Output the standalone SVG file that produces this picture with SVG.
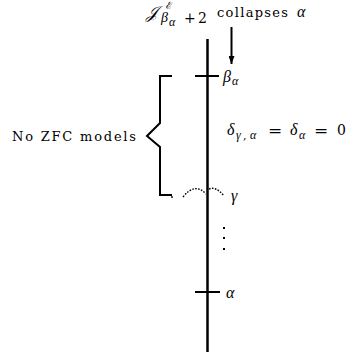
<svg xmlns="http://www.w3.org/2000/svg" width="348" height="355" viewBox="0 0 348 355">
<defs>
<marker id="ah" markerWidth="8" markerHeight="6" refX="8" refY="3" orient="auto" markerUnits="userSpaceOnUse">
<path d="M0,0 L8,3 L0,6 Z" fill="#000"/>
</marker>
</defs>
<style>
.ln{stroke:#000;stroke-width:2;fill:none}
.ax{stroke:#000;stroke-width:2.5;fill:none}
.t{fill:#000;font-family:"DejaVu Serif","Liberation Serif",serif}
.i{font-style:italic;font-family:"Liberation Serif","DejaVu Serif",serif}
.dot{stroke:#000;stroke-width:1.4;fill:none;stroke-dasharray:1.6 1.4}
</style>
<rect width="348" height="355" fill="#fff"/>
<g id="title">
<text class="t i" x="146" y="18" style="font-size:17px">𝒥</text>
<text class="t" x="166" y="9" style="font-size:10px">ℰ</text>
<text class="t i" x="161" y="22" style="font-size:14px">β</text>
<text class="t i" x="169" y="26" style="font-size:12px">α</text>
<text class="t" x="184" y="23" style="font-size:14px" textLength="23">+2</text>
<text class="t" x="217" y="17" style="font-size:13px" textLength="71">collapses</text>
<text class="t i" x="297" y="17" style="font-size:16px">α</text>
</g>
<g id="axis">
<line class="ax" x1="207.5" y1="39" x2="207.5" y2="352"/>
</g>
<g id="beta">
<line class="ln" x1="195" y1="76" x2="219" y2="76"/>
<text class="t i" x="223" y="82" style="font-size:16px">β</text>
<text class="t i" x="232" y="85" style="font-size:12px">α</text>
</g>
<g id="brace">
<path class="ln" d="M172,76 H160 V123 L147,136 L160,147 V195 H172"/>
<text class="t" x="12" y="141" style="font-size:13px" textLength="124">No ZFC models</text>
</g>
<g id="delta">
<text class="t i" x="227" y="135" style="font-size:16px">δ</text>
<text class="t i" x="236" y="139" style="font-size:12px">γ</text>
<text class="t" x="243" y="139" style="font-size:11px">,</text>
<text class="t i" x="250" y="139" style="font-size:12px">α</text>
<text class="t" x="268" y="136" style="font-size:17px">=</text>
<text class="t i" x="290" y="135" style="font-size:16px">δ</text>
<text class="t i" x="299" y="139" style="font-size:12px">α</text>
<text class="t" x="314" y="136" style="font-size:17px">=</text>
<text class="t" x="337" y="135" style="font-size:14px">0</text>
</g>
<g id="gamma">
<circle cx="172" cy="197" r="0.9" fill="#000"/>
<path class="dot" d="M183,197 Q195,182 206,194"/>
<path class="dot" d="M209,189 Q216,186 224,196"/>
<text class="t i" x="231" y="201" style="font-size:16px">γ</text>
</g>
<g id="vdots">
<rect x="223" y="227" width="2" height="2" fill="#000"/>
<rect x="223" y="237" width="2" height="2" fill="#000"/>
<rect x="223" y="248" width="2" height="2" fill="#000"/>
</g>
<g id="alpha">
<line class="ln" x1="195" y1="292" x2="220" y2="292"/>
<text class="t i" x="226" y="298" style="font-size:16px">α</text>
</g>
<g id="connectors">
<line class="ln" x1="231.5" y1="27" x2="231.5" y2="64" marker-end="url(#ah)"/>
</g>
</svg>
